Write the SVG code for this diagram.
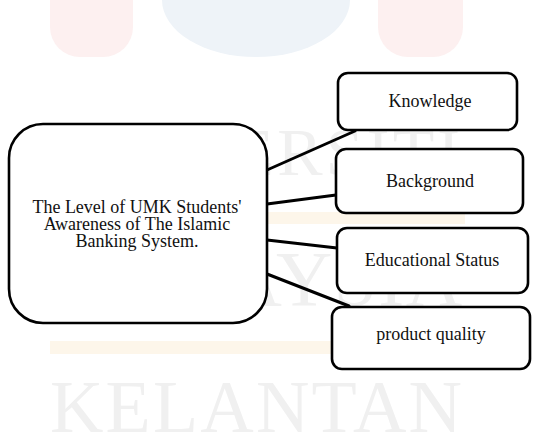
<svg xmlns="http://www.w3.org/2000/svg" width="539" height="433" viewBox="0 0 539 433">
<style>
.wm{font-family:"Liberation Serif","Times New Roman",serif;fill:#f0f0f0}
.node rect{fill:#fff;stroke:#000;stroke-width:2.6}
.node text{font-family:"Liberation Serif","Times New Roman",serif;font-size:18px;fill:#111;text-anchor:middle}
.conn line{stroke:#000;stroke-width:3;stroke-linecap:round}
</style>
<rect width="539" height="433" fill="#fff"/>
<g id="watermark">
<rect x="50" y="-40" width="83" height="97" rx="30" fill="#fdf0f0"/>
<ellipse cx="256" cy="0" rx="94" ry="57" fill="#eef3f8"/>
<rect x="378" y="-40" width="85" height="97" rx="30" fill="#fdf0f0"/>
<rect x="50" y="212" width="415" height="12" fill="#fdf6ea"/>
<rect x="50" y="341" width="415" height="13" fill="#fdf6ea"/>
<text class="wm" x="50" y="175" font-size="68" textLength="410" lengthAdjust="spacing">UNIVERSITI</text>
<text class="wm" x="48" y="305" font-size="78" textLength="414" lengthAdjust="spacing">MALAYSIA</text>
<text class="wm" x="50" y="432" font-size="74" textLength="412" lengthAdjust="spacing">KELANTAN</text>
</g>
<g id="connectors" class="conn">
<line x1="267" y1="170" x2="355" y2="131"/>
<line x1="267" y1="204" x2="336" y2="195"/>
<line x1="267" y1="240" x2="337" y2="248"/>
<line x1="267" y1="274" x2="349" y2="306"/>
</g>
<g id="main" class="node">
<rect x="9" y="124" width="258" height="199" rx="34"/>
<text x="137" y="213">The Level of UMK Students'</text>
<text x="137" y="230">Awareness of The Islamic</text>
<text x="137" y="247">Banking System.</text>
</g>
<g id="knowledge" class="node">
<rect x="338" y="73" width="179" height="57" rx="10"/>
<text x="430" y="107">Knowledge</text>
</g>
<g id="background" class="node">
<rect x="336" y="149" width="187" height="64" rx="10"/>
<text x="430" y="187">Background</text>
</g>
<g id="educational-status" class="node">
<rect x="337" y="228" width="191" height="65" rx="10"/>
<text x="432" y="266">Educational Status</text>
</g>
<g id="product-quality" class="node">
<rect x="332" y="307" width="198" height="62" rx="10"/>
<text x="431" y="340">product quality</text>
</g>
</svg>
